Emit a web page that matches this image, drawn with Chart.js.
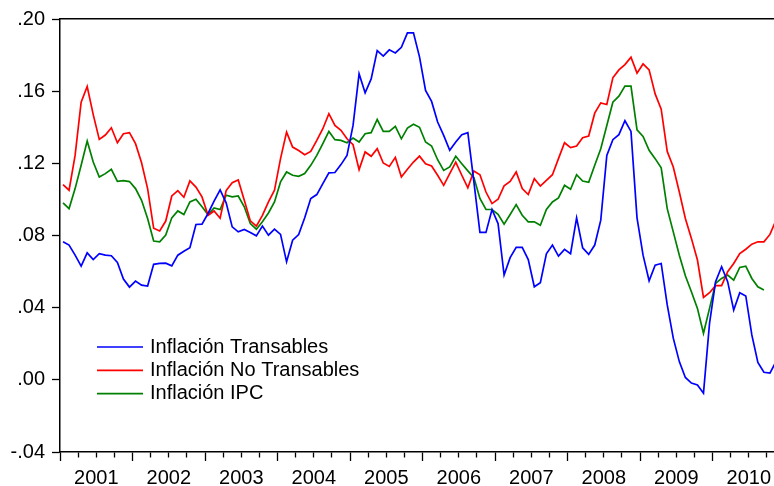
<!DOCTYPE html>
<html>
<head>
<meta charset="utf-8">
<script src="https://cdn.jsdelivr.net/npm/chart.js@4.4.1/dist/chart.umd.min.js"></script>
<style>
html, body { margin: 0; padding: 0; background: #fff; }
#chart { display: block; }
</style>
</head>
<body>
<canvas id="chart" width="774" height="486"></canvas>
<script>
// monthly series, Jan 2001 onward
const firstYear = 2001;
const yearLabels = ['2001', '2002', '2003', '2004', '2005', '2006', '2007', '2008', '2009', '2010'];
const yTicks = [-0.04, 0.00, 0.04, 0.08, 0.12, 0.16, 0.20];

const transables = [
    0.0765, 0.0747, 0.0691, 0.0630, 0.0704, 0.0667, 0.0699, 0.0691, 0.0688, 0.0651, 0.0559, 0.0514,
    0.0547, 0.0525, 0.0520, 0.0640, 0.0645, 0.0647, 0.0632, 0.0691, 0.0713, 0.0732, 0.0861, 0.0863,
    0.0922, 0.0990, 0.1053, 0.0981, 0.0848, 0.0820, 0.0833, 0.0817, 0.0798, 0.0852, 0.0802, 0.0835,
    0.0806, 0.0654, 0.0774, 0.0805, 0.0898, 0.1005, 0.1027, 0.1088, 0.1147, 0.1149, 0.1193, 0.1244,
    0.1410, 0.1696, 0.1591, 0.1668, 0.1825, 0.1794, 0.1829, 0.1812, 0.1843, 0.1923, 0.1923, 0.1790,
    0.1604, 0.1543, 0.1429, 0.1355, 0.1272, 0.1318, 0.1359, 0.1370, 0.1097, 0.0817, 0.0817, 0.0944,
    0.0866, 0.0581, 0.0677, 0.0734, 0.0734, 0.0667, 0.0516, 0.0538, 0.0699, 0.0747, 0.0686, 0.0723,
    0.0699, 0.0898, 0.0732, 0.0695, 0.0747, 0.0885, 0.1244, 0.1331, 0.1359, 0.1436, 0.1377, 0.0898,
    0.0691, 0.0549, 0.0636, 0.0645, 0.0415, 0.0231, 0.0101, 0.0013, -0.0018, -0.0028, -0.0074, 0.0313,
    0.0544, 0.0627, 0.0544, 0.0387, 0.0483, 0.0465, 0.0249, 0.0096, 0.0042, 0.0037, 0.0101
];
const noTransables = [
    0.1082, 0.1051, 0.1244, 0.1539, 0.1626, 0.1470, 0.1333, 0.1357, 0.1397, 0.1314, 0.1364, 0.1370,
    0.1309, 0.1203, 0.1060, 0.0840, 0.0825, 0.0880, 0.1019, 0.1049, 0.1012, 0.1103, 0.1068, 0.1014,
    0.0912, 0.0936, 0.0896, 0.1049, 0.1093, 0.1108, 0.0995, 0.0881, 0.0852, 0.0912, 0.0986, 0.1051,
    0.1226, 0.1373, 0.1290, 0.1271, 0.1248, 0.1266, 0.1327, 0.1392, 0.1475, 0.1410, 0.1383, 0.1336,
    0.1303, 0.1165, 0.1263, 0.1239, 0.1281, 0.1202, 0.1183, 0.1233, 0.1124, 0.1167, 0.1207, 0.1240,
    0.1198, 0.1185, 0.1134, 0.1078, 0.1143, 0.1207, 0.1134, 0.1064, 0.1158, 0.1137, 0.1041, 0.0977,
    0.1001, 0.1075, 0.1100, 0.1152, 0.1060, 0.1027, 0.1115, 0.1074, 0.1106, 0.1137, 0.1226, 0.1314,
    0.1287, 0.1296, 0.1342, 0.1351, 0.1478, 0.1535, 0.1526, 0.1674, 0.1718, 0.1747, 0.1788, 0.1700,
    0.1751, 0.1718, 0.1585, 0.1500, 0.1266, 0.1180, 0.1041, 0.0894, 0.0784, 0.0664, 0.0457, 0.0483,
    0.0522, 0.0522, 0.0599, 0.0645, 0.0700, 0.0724, 0.0752, 0.0765, 0.0765, 0.0806, 0.0885
];
const ipc = [
    0.0981, 0.0949, 0.1060, 0.1189, 0.1324, 0.1207, 0.1124, 0.1143, 0.1167, 0.1100, 0.1104, 0.1099,
    0.1060, 0.0995, 0.0894, 0.0769, 0.0765, 0.0802, 0.0898, 0.0936, 0.0916, 0.0986, 0.1001, 0.0959,
    0.0916, 0.0953, 0.0944, 0.1023, 0.1014, 0.1019, 0.0959, 0.0866, 0.0835, 0.0876, 0.0925, 0.0986,
    0.1097, 0.1152, 0.1134, 0.1128, 0.1143, 0.1189, 0.1244, 0.1309, 0.1377, 0.1331, 0.1327, 0.1314,
    0.1340, 0.1318, 0.1364, 0.1370, 0.1443, 0.1377, 0.1377, 0.1405, 0.1336, 0.1395, 0.1417, 0.1400,
    0.1318, 0.1296, 0.1220, 0.1161, 0.1180, 0.1239, 0.1198, 0.1158, 0.1121, 0.1005, 0.0944, 0.0944,
    0.0918, 0.0863, 0.0916, 0.0971, 0.0912, 0.0876, 0.0876, 0.0857, 0.0944, 0.0986, 0.1008, 0.1078,
    0.1056, 0.1137, 0.1102, 0.1095, 0.1189, 0.1281, 0.1410, 0.1539, 0.1572, 0.1628, 0.1628, 0.1386,
    0.1349, 0.1272, 0.1226, 0.1175, 0.0949, 0.0820, 0.0691, 0.0577, 0.0488, 0.0396, 0.0258, 0.0396,
    0.0535, 0.0562, 0.0581, 0.0553, 0.0623, 0.0630, 0.0562, 0.0516, 0.0498
];

const months = [];
for (let i = 0; i < transables.length; i++) {
    months.push(`${firstYear + Math.floor(i / 12)}M${String(i % 12 + 1).padStart(2, '0')}`);
}

function toPoints(values) {
    return values.map((v, i) => ({x: i, y: v}));
}

function fmtTick(v) {
    const s = v.toFixed(2);
    return s.replace('0.', '.');
}

const font = {family: "'Liberation Sans', Arial, sans-serif", size: 20};

// legend drawn inside the plot, lower left, like the original
const insideLegend = {
    id: 'insideLegend',
    afterDraw(chart) {
        const ctx = chart.ctx;
        const x0 = 97, x1 = 143, tx = 150, y0 = 347, step = 23.3;
        ctx.save();
        ctx.font = `20px ${font.family}`;
        ctx.textBaseline = 'middle';
        ctx.fillStyle = '#000';
        chart.data.datasets.forEach((ds, i) => {
            const y = y0 + i * step;
            ctx.strokeStyle = ds.borderColor;
            ctx.lineWidth = ds.borderWidth;
            ctx.beginPath();
            ctx.moveTo(x0, y);
            ctx.lineTo(x1, y);
            ctx.stroke();
            ctx.fillText(ds.label, tx, y);
        });
        ctx.restore();
    }
};

const data = {
    labels: months,
    datasets: [
        {
            label: 'Inflación Transables',
            data: toPoints(transables),
            borderColor: '#0000ff',
            borderWidth: 1.7
        },
        {
            label: 'Inflación No Transables',
            data: toPoints(noTransables),
            borderColor: '#ff0000',
            borderWidth: 1.7
        },
        {
            label: 'Inflación IPC',
            data: toPoints(ipc),
            borderColor: '#008000',
            borderWidth: 1.7
        }]
};

const config = {
    type: 'line',
    data: data,
    options: {
        responsive: false,
        animation: false,
        elements: {point: {radius: 0}, line: {tension: 0, fill: false}},
        layout: {padding: {top: 18, right: 0, bottom: 0, left: 0}},
        scales: {
            x: {
                type: 'linear',
                position: 'bottom',
                min: -0.5,
                max: 117.67,
                afterBuildTicks: (scale) => {
                    const t = [];
                    for (let v = -0.5; v <= scale.max; v += 3) t.push({value: v});
                    scale.ticks = t;
                },
                afterFit: (scale) => { scale.height = 34; },
                ticks: {
                    autoSkip: false,
                    maxRotation: 0,
                    padding: 5,
                    color: '#000',
                    font: font,
                    callback: (value) => {
                        const m = value + 0.5;
                        return m % 12 === 6 ? yearLabels[(m - 6) / 12] : '';
                    }
                },
                grid: {
                    drawOnChartArea: false,
                    tickLength: 9,
                    tickColor: '#000',
                    tickWidth: 1.3,
                    tickBorderDash: (c) => ((c.tick.value + 0.5) % 12 === 0 ? [] : [5, 30])
                },
                border: {color: '#000', width: 1.5}
            },
            xTop: {
                type: 'linear',
                position: 'top',
                min: -0.5,
                max: 117.67,
                afterFit: (scale) => { scale.height = 0; },
                ticks: {display: false},
                grid: {drawOnChartArea: false, drawTicks: false},
                border: {color: '#000', width: 1.5}
            },
            y: {
                min: -0.04,
                max: 0.20,
                afterBuildTicks: (scale) => { scale.ticks = yTicks.map(v => ({value: v})); },
                afterFit: (scale) => { scale.width = 60; },
                ticks: {
                    padding: 7,
                    color: '#000',
                    font: font,
                    callback: (v) => fmtTick(v)
                },
                grid: {
                    drawOnChartArea: false,
                    tickLength: 8,
                    tickColor: '#000',
                    tickWidth: 1.3
                },
                border: {color: '#000', width: 1.5}
            }
        },
        plugins: {
            legend: {display: false},
            tooltip: {enabled: false}
        }
    },
    plugins: [insideLegend]
};

new Chart(document.getElementById('chart'), config);
</script>
</body>
</html>
